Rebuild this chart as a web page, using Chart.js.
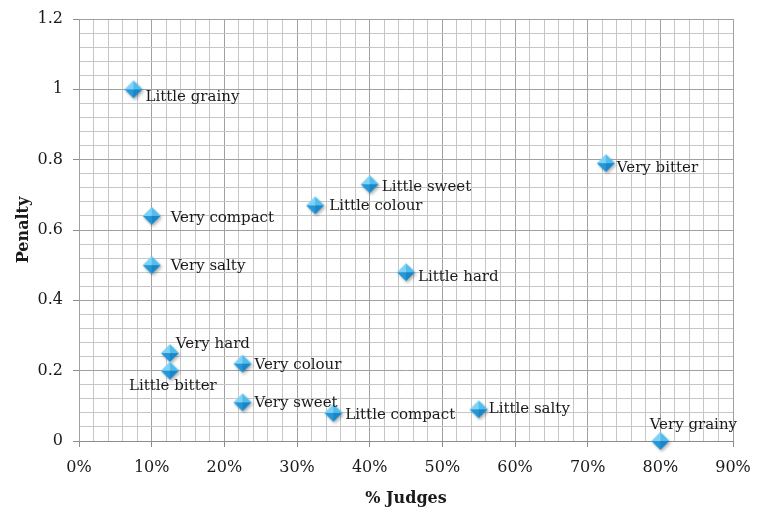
<!DOCTYPE html>
<html>
<head>
<meta charset="utf-8">
<script src="https://cdn.jsdelivr.net/npm/chart.js@4.4.1/dist/chart.umd.min.js"></script>
<style>
  html, body { margin: 0; padding: 0; background: #ffffff; }
  #wrap { width: 760px; height: 518px; position: relative; }
</style>
</head>
<body>
<div id="wrap"><canvas id="c" width="760" height="518"></canvas></div>
<script>
// ---- data ----
const attributes = ["Little grainy", "Very bitter", "Little sweet", "Little colour", "Very compact",
  "Very salty", "Little hard", "Very hard", "Little bitter", "Very colour", "Very sweet",
  "Little compact", "Little salty", "Very grainy"];
const judgesPct = [7.5, 72.5, 40, 32.5, 10, 10, 45, 12.5, 12.5, 22.5, 22.5, 35, 55, 80];
const penalty   = [1.0, 0.79, 0.73, 0.67, 0.64, 0.50, 0.48, 0.25, 0.20, 0.22, 0.11, 0.08, 0.09, 0.0];
const xTickLabels = ["0%", "10%", "20%", "30%", "40%", "50%", "60%", "70%", "80%", "90%"];
const yTickLabels = ["0", "0.2", "0.4", "0.6", "0.8", "1", "1.2"];

// label placement (style only): [dx, dy, align]
const labelPlacement = [
  [12, 8, "left"], [11, 5, "left"], [12, 3, "left"], [14, 1, "left"], [19, 2, "left"],
  [19, 1, "left"], [12, 5, "left"], [6, -9, "left"], [3, 15, "center"], [12, 1, "left"],
  [12, 1, "left"], [12, 2, "left"], [10, 0, "left"], [33, -16, "center"]
];

const SERIF = "'DejaVu Serif', 'Liberation Serif', serif";

// diamond marker
function makeMarker() {
  const s = 24, c = document.createElement('canvas');
  c.width = s; c.height = s;
  const g = c.getContext('2d');
  const cx = 12, cy = 12, r = 9;
  g.save();
  g.filter = 'blur(1.5px)';
  g.fillStyle = 'rgba(0,0,0,0.28)';
  g.beginPath();
  g.moveTo(cx + 1.5, cy - r + 2); g.lineTo(cx + r + 1.5, cy + 2); g.lineTo(cx + 1.5, cy + r + 2); g.lineTo(cx - r + 1.5, cy + 2);
  g.closePath(); g.fill();
  g.restore();
  const facets = [
    [[cx, cy - r], [cx + r, cy], '#4fbdee'],
    [[cx + r, cy], [cx, cy + r], '#1a86c8'],
    [[cx, cy + r], [cx - r, cy], '#2596d6'],
    [[cx - r, cy], [cx, cy - r], '#7fd2f6']
  ];
  facets.forEach(f => {
    g.fillStyle = f[2];
    g.beginPath();
    g.moveTo(cx, cy); g.lineTo(f[0][0], f[0][1]); g.lineTo(f[1][0], f[1][1]);
    g.closePath(); g.fill();
  });
  return c;
}
const marker = makeMarker();

const points = judgesPct.map((x, i) => ({ x: x, y: penalty[i] }));

const labelPlugin = {
  id: 'pointLabels',
  afterDatasetsDraw(chart) {
    const ctx = chart.ctx;
    const xs = chart.scales.x, ys = chart.scales.y;
    ctx.save();
    ctx.font = "15px " + SERIF;
    ctx.fillStyle = '#1a1a1a';
    ctx.textBaseline = 'middle';
    attributes.forEach((name, i) => {
      const px = xs.getPixelForValue(judgesPct[i]);
      const py = ys.getPixelForValue(penalty[i]);
      const p = labelPlacement[i];
      ctx.textAlign = p[2];
      ctx.fillText(name, px + p[0], py + p[1]);
    });
    ctx.restore();
  }
};

new Chart(document.getElementById('c'), {
  type: 'scatter',
  data: {
    datasets: [{
      data: points,
      pointStyle: marker,
      pointRadius: 9,
      pointHoverRadius: 9,
      clip: false
    }]
  },
  options: {
    responsive: false,
    animation: false,
    events: [],
    layout: { padding: { top: 19, right: 27, left: 0, bottom: 0 } },
    plugins: { legend: { display: false }, tooltip: { enabled: false } },
    scales: {
      x: {
        type: 'linear', min: 0, max: 90,
        afterFit(s) { s.height = 77; s.paddingLeft = 0; s.paddingRight = 0; },
        ticks: {
          stepSize: 2, autoSkip: false, maxRotation: 0, padding: 11,
          color: '#1a1a1a',
          font: { family: SERIF, size: 16 },
          callback: (v) => (Math.round(v) % 10 === 0 ? xTickLabels[Math.round(v) / 10] : '')
        },
        grid: {
          drawTicks: true, tickLength: 6,
          color: (ctx) => (ctx.tick && Math.round(ctx.tick.value) % 10 === 0 ? '#a0a0a0' : '#c6c6c6'),
          tickColor: (ctx) => (ctx.tick && Math.round(ctx.tick.value) % 10 === 0 ? '#8c8c8c' : 'rgba(0,0,0,0)'),
          lineWidth: 1
        },
        border: { color: '#8c8c8c' },
        title: {
          display: true, text: '% Judges', color: '#1a1a1a',
          font: { family: SERIF, size: 16, weight: 'bold' }, padding: { top: 0, bottom: 10 }
        }
      },
      y: {
        type: 'linear', min: 0, max: 1.2,
        afterFit(s) { s.width = 79; s.paddingTop = 0; s.paddingBottom = 0; },
        ticks: {
          stepSize: 0.04, autoSkip: false, padding: 10,
          color: '#1a1a1a',
          font: { family: SERIF, size: 16 },
          callback: (v, i) => (i % 5 === 0 ? yTickLabels[i / 5] : '')
        },
        grid: {
          drawTicks: true, tickLength: 6,
          color: (ctx) => (ctx.index % 5 === 0 ? '#a0a0a0' : '#c6c6c6'),
          tickColor: (ctx) => (ctx.index % 5 === 0 ? '#8c8c8c' : 'rgba(0,0,0,0)'),
          lineWidth: 1
        },
        border: { color: '#a0a0a0' },
        title: {
          display: true, text: 'Penalty', color: '#1a1a1a',
          font: { family: SERIF, size: 16, weight: 'bold' }, padding: { top: 14, bottom: 0 }
        }
      }
    }
  },
  plugins: [labelPlugin]
});
</script>
</body>
</html>
